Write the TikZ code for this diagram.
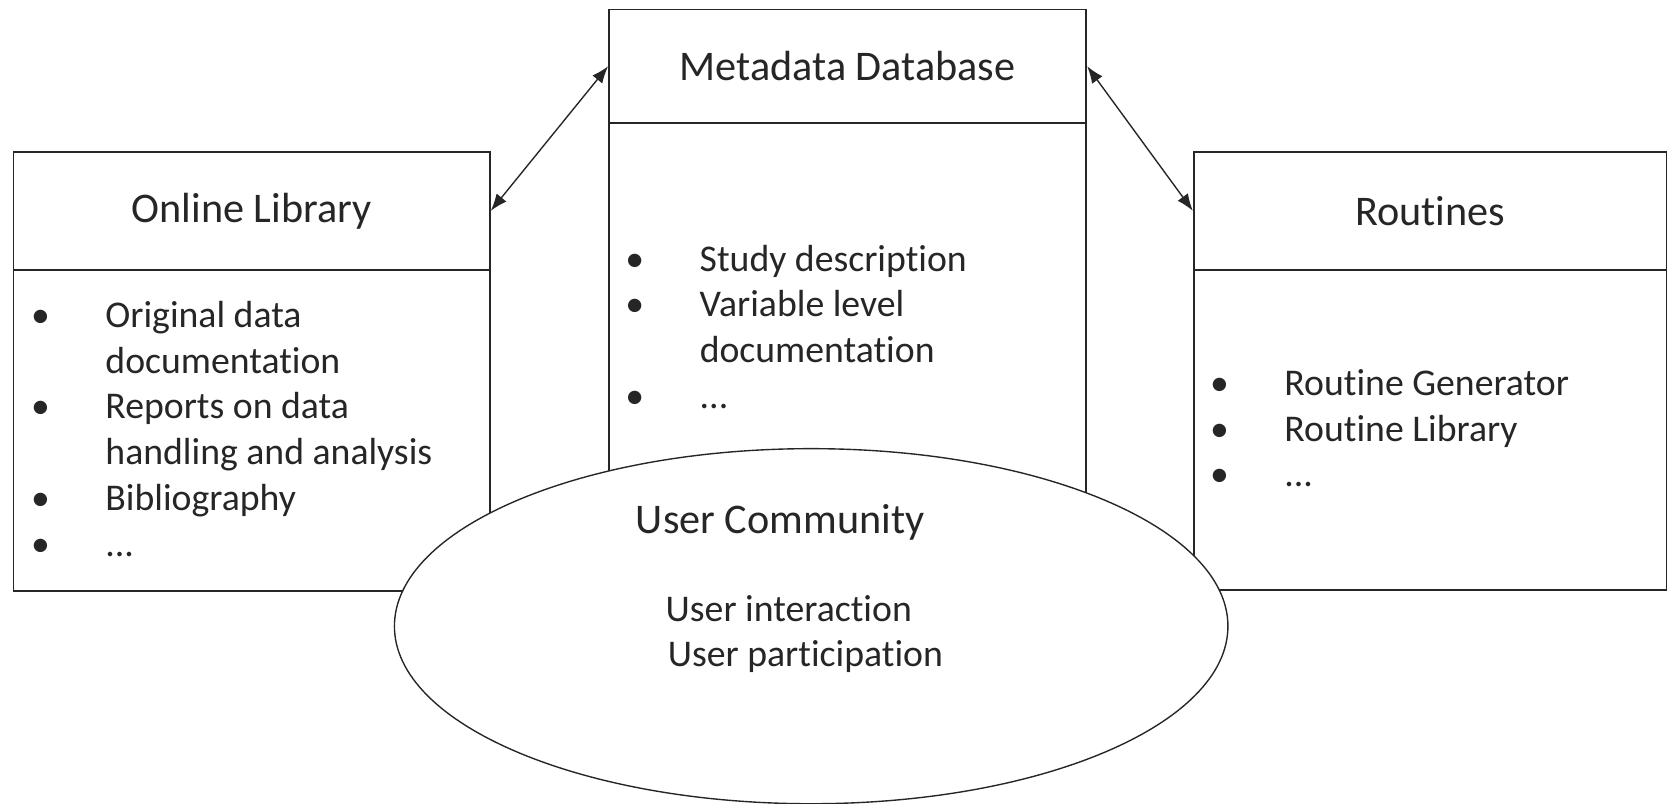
\documentclass[tikz,border=0pt]{standalone}
\usepackage{fontspec}
\setmainfont{Carlito}[Ligatures=NoCommon,RawFeature={-calt;-liga;-clig;-rlig}]
\usetikzlibrary{shapes.geometric,arrows.meta}
\begin{document}
\begin{tikzpicture}[x=1pt,y=-1pt,
  every node/.style={text=black!85, font=\fontsize{35.5}{43}\selectfont},
  title/.style={font=\fontsize{39.7}{48}\selectfont},
  box/.style={draw=black!85, line width=1.6pt, fill=white, inner sep=0pt, anchor=north west},
  ring/.style={ellipse, draw=black!85, line width=1.3pt, fill=white, inner sep=0pt},
  link/.style={draw=black!85, line width=1.3pt, {Latex[length=16pt,width=12pt]}-{Latex[length=16pt,width=12pt]}},
  plain/.style={inner sep=0pt, anchor=base west}
]
\useasboundingbox (0,0) rectangle (1568,756);
% Metadata Database
\node[box, minimum width=449pt, minimum height=107pt] (metahead) at (572,8) {};
\node[box, minimum width=449pt, minimum height=450pt] (metabody) at (572,115) {};
\node[title] (metatitle) at (metahead.center) {Metadata Database};
% Online Library
\node[box, minimum width=448pt, minimum height=111pt] (libhead) at (12,142) {};
\node[box, minimum width=448pt, minimum height=302pt] (libbody) at (12,253) {};
\node[title] (libtitle) at (libhead.center) {Online Library};
% Routines
\node[box, minimum width=445pt, minimum height=111pt] (rouhead) at (1122,142) {};
\node[box, minimum width=445pt, minimum height=301pt] (roubody) at (1122,253) {};
\node[title] (routitle) at (rouhead.center) {Routines};
% lists
\node[plain] (liblist) at (29,308) {\begin{tabular}[t]{@{}p{70pt}@{}l@{}}
•&Original data\\
 &documentation\\
•&Reports on data\\
 &handling and analysis\\
•&Bibliography\\
•&...
\end{tabular}};
\node[plain] (metalist) at (588,255) {\begin{tabular}[t]{@{}p{70pt}@{}l@{}}
•&Study description\\
•&Variable level\\
 &documentation\\
•&...
\end{tabular}};
\node[plain] (roulist) at (1138,372) {\begin{tabular}[t]{@{}p{70pt}@{}l@{}}
•&Routine Generator\\
•&Routine Library\\
•&...
\end{tabular}};
% arrows
\draw[link] (metahead.west) -- (libhead.east);
\draw[link] (metahead.east) -- (rouhead.west);
% User community
\node[ring, minimum width=784pt, minimum height=334pt] (uc) at (763,589) {};
\node[plain, title] (uctitle) at (598,502) {User Community};
\node[plain] (ucline1) at (626,585) {User interaction};
\node[plain] (ucline2) at (628,627) {User participation};
\end{tikzpicture}
\end{document}
